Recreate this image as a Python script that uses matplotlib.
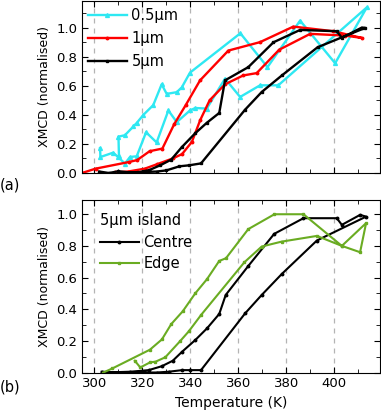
import matplotlib
matplotlib.use('Agg')
import matplotlib.pyplot as plt
from matplotlib.ticker import MultipleLocator

# top panel: hysteresis loops for three island sizes (heating + cooling branch)
t_05 = [302.3, 302.5, 307.8, 309.8, 312.7, 314.8, 317.6, 321.5, 325.9, 330.8, 334.3, 339.8,
        342.0, 346.8, 354.4, 360.7, 369.0, 376.6, 413.5, 400.3, 385.7, 372.1, 360.8, 339.8,
        336.4, 334.3, 330.1, 328.0, 324.5, 320.4, 317.6, 316.2, 312.7, 310.0, 310.2]
m_05 = [0.17, 0.11, 0.14, 0.11, 0.065, 0.11, 0.115, 0.28, 0.21, 0.43, 0.35, 0.43,
        0.447, 0.443, 0.649, 0.523, 0.603, 0.603, 1.139, 0.755, 1.048, 0.728, 0.961, 0.69,
        0.589, 0.556, 0.544, 0.61, 0.467, 0.40, 0.344, 0.32, 0.26, 0.25, 0.12]

t_1 = [294.8, 300.5, 314.2, 317.8, 323.0, 328.3, 333.2, 338.0, 344.0, 355.8, 369.0, 382.9,
       399.6, 411.4, 404.5, 389.9, 377.0, 367.6, 362.0, 354.4, 348.0, 344.1, 340.6, 336.5,
       332.6, 326.0, 321.0, 314.0, 308.5]
m_1 = [0.0, 0.03, 0.075, 0.089, 0.15, 0.168, 0.335, 0.466, 0.637, 0.842, 0.90, 1.007,
       0.975, 0.929, 0.945, 0.957, 0.848, 0.687, 0.671, 0.61, 0.50, 0.365, 0.214, 0.13,
       0.10, 0.06, 0.03, 0.01, 0.005]

t_5 = [302.0, 306.0, 310.0, 317.0, 322.8, 327.4, 332.0, 336.4, 341.9, 346.8, 352.0, 354.4,
       364.1, 374.6, 385.7, 401.0, 403.1, 411.4, 412.8, 393.0, 378.1, 369.7, 362.8, 344.4,
       339.5, 335.4, 330.0, 325.9, 318.0, 310.0]
m_5 = [0.01, 0.0, 0.012, 0.0, 0.02, 0.053, 0.092, 0.178, 0.272, 0.345, 0.413, 0.637,
       0.728, 0.899, 0.984, 0.975, 0.93, 1.0, 0.998, 0.865, 0.671, 0.557, 0.436, 0.066,
       0.053, 0.046, 0.018, 0.01, 0.005, 0.0]

# bottom panel: 5um island, centre vs edge
t_centre = [303.0, 310.0, 318.0, 326.0, 331.0, 336.5, 340.0, 344.4, 362.8, 369.7, 378.1, 392.7,
            413.2, 410.7, 403.1, 401.0, 387.1, 374.9, 364.1, 354.7, 352.0, 346.9, 342.0,
            336.5, 332.6, 328.1, 322.6, 315.0, 305.0]
m_centre = [0.005, 0.0, 0.0, 0.0, 0.005, 0.015, 0.015, 0.015, 0.374, 0.49, 0.623, 0.834,
            0.985, 0.996, 0.933, 0.975, 0.975, 0.876, 0.673, 0.49, 0.37, 0.279, 0.205,
            0.131, 0.074, 0.04, 0.015, 0.005, 0.0]

t_edge = [316.8, 319.1, 323.3, 325.4, 329.5, 335.8, 339.3, 344.5, 362.5, 369.7, 378.0, 392.7,
          403.1, 410.7, 413.2, 403.1, 387.1, 375.0, 364.1, 354.8, 352.0, 346.9, 342.0,
          336.8, 332.0, 328.1, 323.1, 307.5, 303.7]
m_edge = [0.074, 0.032, 0.065, 0.068, 0.096, 0.20, 0.26, 0.365, 0.697, 0.796, 0.827, 0.863,
          0.80, 0.76, 0.944, 0.80, 1.0, 1.0, 0.906, 0.722, 0.705, 0.59, 0.50,
          0.387, 0.306, 0.209, 0.144, 0.026, 0.0]

cyan = '#2ee8f2'
green = '#6aac22'

plt.rcParams['font.family'] = 'DejaVu Sans'
plt.rcParams['font.size'] = 9

fig = plt.figure(figsize=(3.81, 4.16), dpi=100)
ax1 = fig.add_axes([82/381, 1 - 173/416, 298/381, 172.3/416])
ax2 = fig.add_axes([82/381, 1 - 372.5/416, 298/381, 172.5/416])

ax1.plot(t_05, m_05, '-^', color=cyan, lw=1.7, ms=2.8, label='0.5µm')
ax1.plot(t_1, m_1, '-o', color='red', lw=1.7, ms=1.8, label='1µm')
ax1.plot(t_5, m_5, '-s', color='black', lw=1.7, ms=1.6, label='5µm')

ax2.plot(t_centre, m_centre, '-o', color='black', lw=1.5, ms=1.8, label='Centre')
ax2.plot(t_edge, m_edge, '-s', color=green, lw=1.5, ms=1.6, label='Edge')

for ax in (ax1, ax2):
    for x in range(300, 401, 20):
        ax.axvline(x, color='#b4b4b4', ls=(0, (4, 4)), lw=0.9, zorder=0)
    ax.set_xlim(294.8, 419)
    ax.xaxis.set_major_locator(MultipleLocator(20))
    ax.xaxis.set_minor_locator(MultipleLocator(10))
    ax.yaxis.set_major_locator(MultipleLocator(0.2))
    ax.yaxis.set_minor_locator(MultipleLocator(0.1))
    ax.tick_params(which='both', direction='in', top=True, right=True, labelsize=9.5)
    ax.tick_params(which='major', length=4)
    ax.tick_params(which='minor', length=3)
    ax.set_ylabel('XMCD (normalised)', fontsize=9)

ax1.set_ylim(0, 1.185)
ax2.set_ylim(0, 1.09)
ax1.tick_params(labelbottom=False)
ax2.set_xlabel('Temperature (K)', fontsize=10)

ax1.legend(loc='upper left', bbox_to_anchor=(-0.025, 1.035), frameon=False, fontsize=10.5,
           handlelength=2.7, handletextpad=0.3, labelspacing=0.55)
ax2.legend(loc='upper left', bbox_to_anchor=(0.015, 1.0), frameon=False, fontsize=10.5,
           title='5µm island', title_fontsize=10.5, alignment='left',
           handlelength=2.7, handletextpad=0.3, labelspacing=0.45)

fig.text(0.0, 1 - 185/416, '(a)', fontsize=10.5, va='center')
fig.text(0.0, 1 - 387/416, '(b)', fontsize=10.5, va='center')

fig.savefig('out.png', dpi=100)
